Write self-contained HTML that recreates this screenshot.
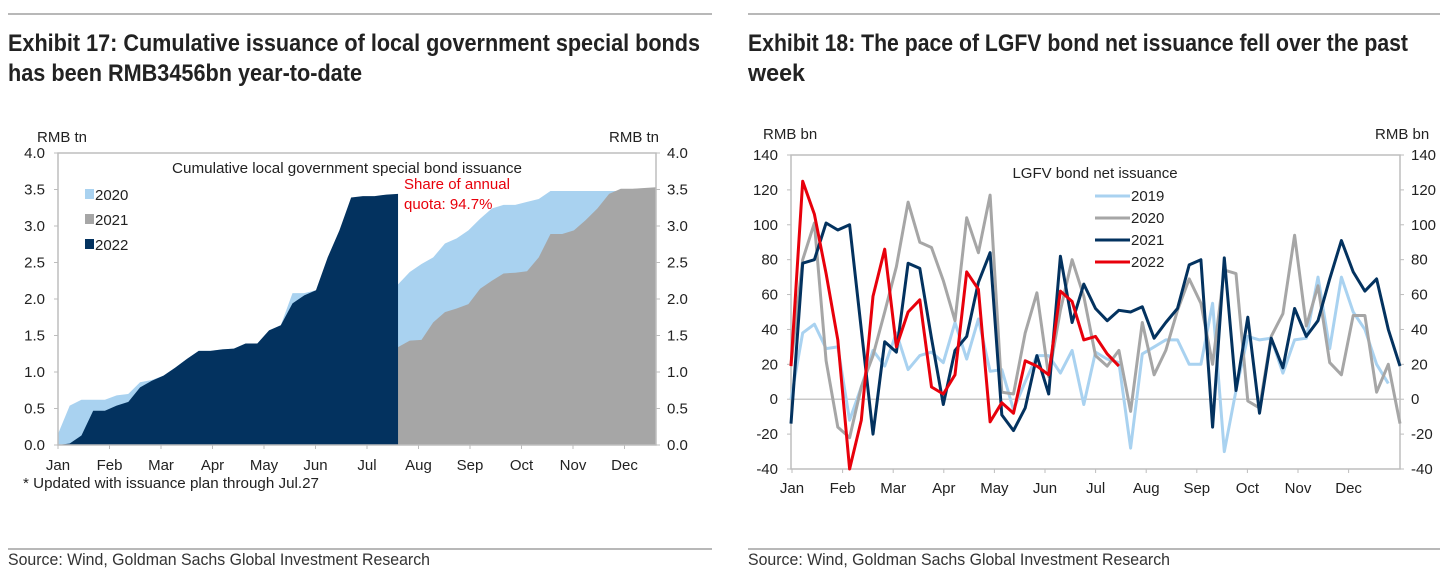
<!DOCTYPE html>
<html><head><meta charset="utf-8"><style>
body{margin:0;background:#fff;}
svg{display:block;font-family:"Liberation Sans",Arial,sans-serif;}
</style></head><body>
<svg id="s" width="1453" height="577" viewBox="0 0 1453 577" xmlns="http://www.w3.org/2000/svg">
<g>
<line x1="8" y1="14" x2="712" y2="14" stroke="#a0a0a0" stroke-width="1.5"/>
<text x="8" y="51" font-size="24" font-weight="bold" fill="#222" textLength="692" lengthAdjust="spacingAndGlyphs">Exhibit 17: Cumulative issuance of local government special bonds</text>
<text x="8" y="81" font-size="24" font-weight="bold" fill="#222" textLength="354" lengthAdjust="spacingAndGlyphs">has been RMB3456bn year-to-date</text>
</g>
<g>
<line x1="748" y1="14" x2="1440" y2="14" stroke="#a0a0a0" stroke-width="1.5"/>
<text x="748" y="51" font-size="24" font-weight="bold" fill="#222" textLength="660" lengthAdjust="spacingAndGlyphs">Exhibit 18: The pace of LGFV bond net issuance fell over the past</text>
<text x="748" y="81" font-size="24" font-weight="bold" fill="#222" textLength="57" lengthAdjust="spacingAndGlyphs">week</text>
</g>
<g>
<line x1="8" y1="549" x2="712" y2="549" stroke="#a0a0a0" stroke-width="1.5"/>
<line x1="748" y1="549" x2="1440" y2="549" stroke="#a0a0a0" stroke-width="1.5"/>
<text x="8" y="565" font-size="17" fill="#333" textLength="422" lengthAdjust="spacingAndGlyphs">Source: Wind, Goldman Sachs Global Investment Research</text>
<text x="748" y="565" font-size="17" fill="#333" textLength="422" lengthAdjust="spacingAndGlyphs">Source: Wind, Goldman Sachs Global Investment Research</text>
</g>
<g id="left"></g>
<g id="right"></g>
</svg>
<script>
// ---- Left chart data (RMB tn, weekly cumulative) ----
const leftMonths = ["Jan","Feb","Mar","Apr","May","Jun","Jul","Aug","Sep","Oct","Nov","Dec"];
const leftTicks = [0.0,0.5,1.0,1.5,2.0,2.5,3.0,3.5,4.0];
const cum2020 = [0.15,0.54,0.62,0.62,0.62,0.68,0.70,0.86,0.89,0.95,1.06,1.18,1.29,1.29,1.31,1.32,1.39,1.39,1.57,1.64,2.08,2.08,2.12,2.15,2.15,2.17,2.18,2.18,2.18,2.2,2.37,2.48,2.57,2.76,2.83,2.94,3.10,3.24,3.29,3.29,3.33,3.37,3.48,3.48,3.48,3.48,3.48,3.48,3.48,3.48,3.48,3.48];
const cum2021 = [0,0,0.05,0.1,0.2,0.3,0.35,0.4,0.45,0.5,0.55,0.6,0.65,0.7,0.75,0.8,0.85,0.9,0.95,1.0,1.05,1.1,1.15,1.2,1.22,1.25,1.28,1.3,1.32,1.34,1.43,1.44,1.68,1.82,1.87,1.93,2.14,2.25,2.35,2.36,2.38,2.57,2.89,2.89,2.94,3.08,3.24,3.44,3.51,3.51,3.52,3.53];
const cum2022 = [0,0.02,0.13,0.47,0.47,0.54,0.59,0.79,0.88,0.95,1.06,1.18,1.29,1.29,1.31,1.32,1.39,1.39,1.57,1.64,1.94,2.05,2.12,2.57,2.94,3.39,3.41,3.41,3.43,3.44];

// ---- Right chart data (RMB bn, weekly) ----
const rightMonths = ["Jan","Feb","Mar","Apr","May","Jun","Jul","Aug","Sep","Oct","Nov","Dec"];
const rightTicks = [-40,-20,0,20,40,60,80,100,120,140];
const net2019 = [0,38,43,29,30,-12,7,28,19,38,17,25,27,21,44,23,46,16,17,-6,10,25,25,15,28,-3,27,23,21,-28,26,30,34,34,20,20,55,-30,5,36,34,35,15,34,35,70,29,70,50,40,20,9];
const net2020 = [20,80,101,22,-16,-22,7,25,50,76,113,90,87,68,45,104,84,117,4,3,38,61,13,51,80,59,25,19,28,-7,44,14,28,51,69,55,20,74,72,-1,-5,36,49,94,42,65,21,14,48,48,4,20,-14];
const net2021 = [-14,78,80,101,97,100,40,-20,33,27,78,75,35,-3,28,36,67,84,-9,-18,-5,25,3,82,44,66,52,45,51,50,53,35,44,52,77,80,-16,81,5,47,-8,35,18,52,36,45,69,91,73,62,69,40,19];
const net2022 = [19,125,106,72,34,-40,-12,59,86,30,50,57,7,3,14,73,63,-13,-2,-8,22,19,14,62,56,34,36,26,19];

const NS="http://www.w3.org/2000/svg";
function mk(parent,tag,attrs,text){const e=document.createElementNS(NS,tag);for(const k in attrs)e.setAttribute(k,attrs[k]);if(text!==undefined)e.textContent=text;parent.appendChild(e);return e;}

// ---------- Left chart ----------
(function(){
  const g=document.getElementById('left');
  const L=58,R=656,T=153,B=445;
  const y=v=>B-(v/4)*(B-T);
  const x=i=>L+i*(R-L)/51;
  const mx=m=>58+m*51.5;
  function area(data,color,name){
    let d=`M${x(0)},${B}`;
    data.forEach((v,i)=>{d+=` L${x(i)},${y(v)}`;});
    d+=` L${x(data.length-1)},${B} Z`;
    const p=mk(g,'path',{d,fill:color});
    
    
  }
  area(cum2020,'#a9d2f0','area-2020');
  area(cum2021,'#a6a6a6','area-2021');
  area(cum2022,'#03325f','area-2022');
  const ax=mk(g,'path',{d:`M${L},${T} H${R} V${B} H${L} Z`,fill:'none',stroke:'#bdbdbd','stroke-width':1.5});
  
  
  leftTicks.forEach(t=>{
    const a=mk(g,'text',{x:45,y:y(t)+5,'font-size':15,'text-anchor':'end',fill:'#222'},t.toFixed(1));
    
    
    const b=mk(g,'text',{x:667,y:y(t)+5,'font-size':15,fill:'#222'},t.toFixed(1));
    
    
    mk(g,'line',{x1:L-4,x2:L,y1:y(t),y2:y(t),stroke:'#bdbdbd'});
    mk(g,'line',{x1:R,x2:R+4,y1:y(t),y2:y(t),stroke:'#bdbdbd'});
  });
  leftMonths.forEach((m,i)=>{
    const t=mk(g,'text',{x:mx(i),y:470,'font-size':15,'text-anchor':'middle',fill:'#222'},m);
    
    
    mk(g,'line',{x1:mx(i),x2:mx(i),y1:B,y2:B+4,stroke:'#bdbdbd'});
  });
  const u1=mk(g,'text',{x:37,y:142,'font-size':15,fill:'#222'},'RMB tn');
  
  
  const u2=mk(g,'text',{x:609,y:142,'font-size':15,fill:'#222'},'RMB tn');
  
  
  const ct=mk(g,'text',{x:347,y:173,'font-size':15,'text-anchor':'middle',fill:'#222',textLength:350,lengthAdjust:'spacingAndGlyphs'},'Cumulative local government special bond issuance');
  
  
  const r1=mk(g,'text',{x:404,y:189,'font-size':15,fill:'#e8000b'},'Share of annual');
  
  
  const r2=mk(g,'text',{x:404,y:209,'font-size':15,fill:'#e8000b'},'quota: 94.7%');
  
  
  [['2020','#a9d2f0',199],['2021','#a6a6a6',224],['2022','#03325f',249]].forEach(l=>{
    const s=mk(g,'rect',{x:85,y:l[2]-10,width:9,height:10,fill:l[1]});
    
    
    const t=mk(g,'text',{x:95,y:l[2]+1,'font-size':15,fill:'#222'},l[0]);
    
    
  });
  const fn=mk(g,'text',{x:23,y:488,'font-size':15,fill:'#222',textLength:296,lengthAdjust:'spacingAndGlyphs'},'* Updated with issuance plan through Jul.27');
  
  
})();

// ---------- Right chart ----------
(function(){
  const g=document.getElementById('right');
  const L=791,R=1400,T=155,B=469;
  const y=v=>B-((v+40)/180)*(B-T);
  const x=i=>L+i*(R-L)/52;
  const mx=m=>792+m*50.6;
  const ax=mk(g,'path',{d:`M${L},${T} H${R} V${B} H${L} Z`,fill:'none',stroke:'#bdbdbd','stroke-width':1.5});
  
  
  const z=mk(g,'line',{x1:L,x2:R,y1:y(0),y2:y(0),stroke:'#c8c8c8','stroke-width':1.5});
  
  
  rightTicks.forEach(t=>{
    const a=mk(g,'text',{x:778,y:y(t)+5,'font-size':15,'text-anchor':'end',fill:'#222'},String(t));
    
    
    const b=mk(g,'text',{x:1411,y:y(t)+5,'font-size':15,fill:'#222'},String(t));
    
    
    mk(g,'line',{x1:L-4,x2:L,y1:y(t),y2:y(t),stroke:'#bdbdbd'});
    mk(g,'line',{x1:R,x2:R+4,y1:y(t),y2:y(t),stroke:'#bdbdbd'});
  });
  rightMonths.forEach((m,i)=>{
    const t=mk(g,'text',{x:mx(i),y:493,'font-size':15,'text-anchor':'middle',fill:'#222'},m);
    
    
    mk(g,'line',{x1:mx(i),x2:mx(i),y1:B,y2:B+4,stroke:'#bdbdbd'});
  });
  function line(data,color,name){
    const pts=data.map((v,i)=>x(i).toFixed(1)+','+y(v).toFixed(1)).join(' ');
    const p=mk(g,'polyline',{points:pts,fill:'none',stroke:color,'stroke-width':3,'stroke-linejoin':'round'});
    
    
  }
  line(net2019,'#a9d2f0','line-2019');
  line(net2020,'#a6a6a6','line-2020');
  line(net2021,'#03325f','line-2021');
  line(net2022,'#e8000b','line-2022');
  const u1=mk(g,'text',{x:763,y:139,'font-size':15,fill:'#222'},'RMB bn');
  
  
  const u2=mk(g,'text',{x:1375,y:139,'font-size':15,fill:'#222'},'RMB bn');
  
  
  const ct=mk(g,'text',{x:1095,y:178,'font-size':15,'text-anchor':'middle',fill:'#222'},'LGFV bond net issuance');
  
  
  [['2019','#a9d2f0',196],['2020','#a6a6a6',218],['2021','#03325f',240],['2022','#e8000b',262]].forEach(l=>{
    const s=mk(g,'line',{x1:1095,x2:1130,y1:l[2],y2:l[2],stroke:l[1],'stroke-width':3});
    
    
    const t=mk(g,'text',{x:1131,y:l[2]+5,'font-size':15,fill:'#222'},l[0]);
    
    
  });
})();
</script>
</body></html>
